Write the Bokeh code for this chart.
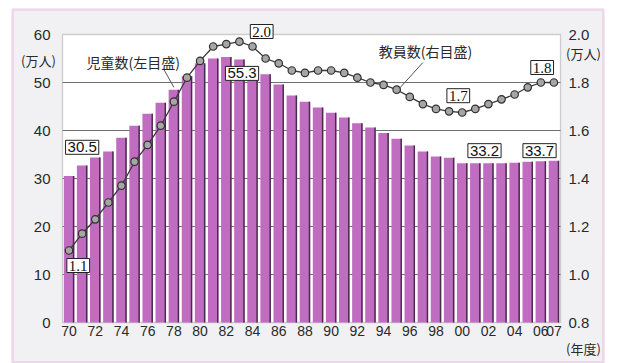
from bokeh.plotting import figure
from bokeh.models import Range1d, LinearAxis, FixedTicker, Label, BoxAnnotation, ColumnDataSource
from bokeh.transform import dodge
from bokeh.embed import file_html
from bokeh.resources import INLINE

# ---- data ----
years = list(range(1970, 2008))
children = [30.5, 32.7, 34.4, 35.6, 38.5, 41.0, 43.5, 45.8, 48.5, 51.3,
            54.0, 55.0, 55.3, 54.8, 53.4, 51.7, 49.6, 47.3, 46.0, 44.8,
            43.7, 42.7, 41.5, 40.6, 39.5, 38.3, 36.9, 35.6, 34.6, 34.3,
            33.2, 33.2, 33.2, 33.2, 33.3, 33.5, 33.6, 33.7]
teachers = [1.10, 1.17, 1.23, 1.30, 1.37, 1.47, 1.54, 1.62, 1.72, 1.82,
            1.89, 1.95, 1.96, 1.97, 1.95, 1.90, 1.88, 1.85, 1.84, 1.85,
            1.85, 1.84, 1.82, 1.80, 1.79, 1.77, 1.74, 1.71, 1.69, 1.68,
            1.675, 1.69, 1.71, 1.73, 1.75, 1.78, 1.80, 1.80]
x_ticks = list(range(1970, 2007, 2)) + [2007]
x_tick_labels = ["70", "72", "74", "76", "78", "80", "82", "84", "86", "88",
                 "90", "92", "94", "96", "98", "00", "02", "04", "06", "07"]
left_ticks = [0, 10, 20, 30, 40, 50, 60]
left_tick_labels = ["0", "10", "20", "30", "40", "50", "60"]
right_ticks = [0.8, 1.0, 1.2, 1.4, 1.6, 1.8, 2.0]
right_tick_labels = ["0.8", "1.0", "1.2", "1.4", "1.6", "1.8", "2.0"]
unit_label = "(万人)"
year_label = "(年度)"
children_name = "児童数(左目盛)"
teachers_name = "教員数(右目盛)"

# ---- layout geometry (pixels) ----
W, H = 617, 363
FR_L, FR_R, FR_T, FR_B = 62, 560, 34, 322      # plotting area
X0, X1 = 1969.5, 2007.5                         # category span
Y0, Y1 = 0, 60                                  # left-axis span
R0, R1 = 0.8, 2.0                               # right-axis span
SX = (FR_R - FR_L) / (X1 - X0)
SY = (FR_B - FR_T) / (Y1 - Y0)
XS = X0 - FR_L / SX
YS = Y0 - (H - FR_B) / SY
RK = (R1 - R0) / (Y1 - Y0)

def xd(px):
    return XS + px / SX

def yd(py):
    return YS + (H - py) / SY

src = ColumnDataSource(dict(year=years, children=children, teachers=teachers))

p = figure(width=W, height=H, x_range=Range1d(XS, XS + W / SX), y_range=Range1d(YS, YS + H / SY),
           output_backend="svg", toolbar_location=None, x_axis_location=None, y_axis_location=None,
           min_border=0, min_border_left=0, min_border_right=0, min_border_top=0, min_border_bottom=0)
p.title.visible = False
p.extra_y_ranges = {"right": Range1d(R0 + RK * YS, R0 + RK * (YS + H / SY))}
p.background_fill_color = "white"
p.border_fill_color = "white"
p.outline_line_color = None
p.xgrid.visible = False
p.ygrid.visible = False

# pink outer frame with light grey panel, white plotting area
p.add_layout(BoxAnnotation(left=xd(12), right=xd(603), top=yd(9), bottom=yd(362),
                           fill_color="#f1f1f4", fill_alpha=1, line_color="#d58fca",
                           line_width=2.5, level="image"))
p.add_layout(BoxAnnotation(left=X0, right=X1, bottom=Y0, top=Y1, fill_color="white", fill_alpha=1,
                           line_color="#6a6a6a", line_width=1.3, level="image"))

FONT = "Liberation Sans"
CJK = "Noto Sans CJK JP"
TXT = "#2a2a2a"

def style_axis(ax, standoff, size="15px"):
    ax.axis_line_color = None
    ax.major_tick_line_color = None
    ax.minor_tick_line_color = None
    ax.major_tick_out = 0
    ax.major_tick_in = 0
    ax.minor_tick_out = 0
    ax.major_label_text_font = FONT
    ax.major_label_text_font_size = size
    ax.major_label_text_color = TXT
    ax.major_label_standoff = standoff

xax = LinearAxis(ticker=FixedTicker(ticks=x_ticks), fixed_location=Y0)
xax.major_label_overrides = {t: s for t, s in zip(x_ticks, x_tick_labels)}
style_axis(xax, 3, "14px")
p.add_layout(xax, "below")

lax = LinearAxis(ticker=FixedTicker(ticks=left_ticks), fixed_location=X0)
lax.major_label_overrides = {t: s for t, s in zip(left_ticks, left_tick_labels)}
style_axis(lax, 12)
p.add_layout(lax, "left")

rax = LinearAxis(y_range_name="right", ticker=FixedTicker(ticks=right_ticks), fixed_location=X1)
rax.major_label_overrides = {t: s for t, s in zip(right_ticks, right_tick_labels)}
style_axis(rax, 8)
p.add_layout(rax, "right")

# horizontal gridlines across the plotting area
inner = [t for t in left_ticks if Y0 < t < Y1]
p.segment(x0=[X0] * len(inner), x1=[X1] * len(inner), y0=inner, y1=inner,
          line_color="#707070", line_width=1)

# bars
p.vbar(x="year", top="children", width=0.8, source=src, fill_color="#c06cc0", line_color=None)
p.vbar(x=dodge("year", 0.345, range=p.x_range), top="children", width=0.11, source=src,
       fill_color="#4a2a4c", line_color=None)

# teachers line
p.line(x="year", y="teachers", source=src, y_range_name="right", line_color="#3a3a3a", line_width=1.3)
p.scatter(x="year", y="teachers", source=src, y_range_name="right", size=7.5,
          fill_color="#a6a6a6", line_color="#303030", line_width=1.2)

# value labels
def box_label(x, y, text, font, rng="default"):
    p.add_layout(Label(x=x, y=y, y_range_name=rng, text=text, text_align="center",
                       text_baseline="middle", text_font=font, text_font_size="15px",
                       text_color="#111111", border_line_color="#222222", border_line_width=1,
                       background_fill_color="white", padding=2))

late_min = min(teachers[20:])
box_label(years[0] + 1.0, children[0] + 6.0, f"{children[0]:.1f}", FONT)
box_label(years[12] + 1.2, children[12] - 3.4, f"{max(children):.1f}", FONT)
box_label(years[30] + 1.7, children[30] + 2.6, f"{children[30]:.1f}", FONT)
box_label(years[-1] - 1.1, children[30] + 2.6, f"{children[-1]:.1f}", FONT)
box_label(years[0] + 0.7, teachers[0] - 0.0625, f"{teachers[0]:.1f}", "Liberation Serif", "right")
box_label(years[14] + 0.7, 2.0125, f"{max(teachers):.1f}", "Liberation Serif", "right")
box_label(years[29] + 0.7, late_min + 0.07, f"{late_min:.1f}", "Liberation Serif", "right")
box_label(years[-1] - 0.9, teachers[-1] + 0.0625, f"{teachers[-1]:.1f}", "Liberation Serif", "right")

# series names with leader lines
p.add_layout(Label(x=1974.9, y=54.2, text=children_name, text_align="center", text_baseline="middle",
                   text_font=CJK, text_font_size="14px", text_color=TXT))
p.segment(x0=[1977.2], y0=[52.9], x1=[years[8]], y1=[children[8] + 0.5], line_color="#555555", line_width=1)
p.add_layout(Label(x=1997.2, y=1.933, y_range_name="right", text=teachers_name, text_align="center",
                   text_baseline="middle", text_font=CJK, text_font_size="14px", text_color=TXT))
p.segment(x0=[1997.0], y0=[1.883], x1=[years[25] + 0.2], y1=[teachers[25] + 0.005],
          y_range_name="right", line_color="#555555", line_width=1)

# unit captions
for px_, py_, txt in [(38, 60, unit_label), (583, 53, unit_label), (583, 348, year_label)]:
    p.add_layout(Label(x=xd(px_), y=yd(py_), text=txt, text_align="center", text_baseline="middle",
                       text_font=CJK, text_font_size="13px", text_color=TXT))

open("out.html", "w").write(file_html(p, INLINE))
